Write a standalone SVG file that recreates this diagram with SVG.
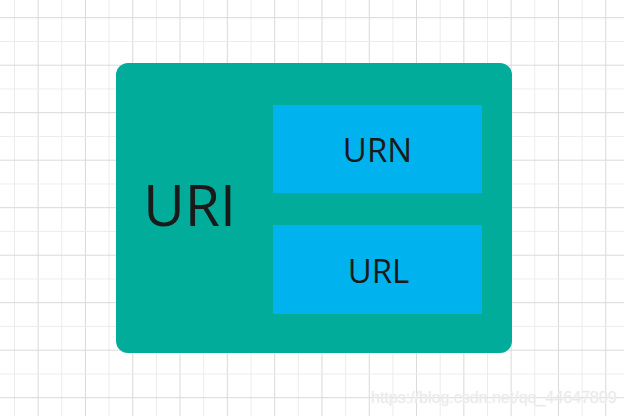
<svg xmlns="http://www.w3.org/2000/svg" width="624" height="416" viewBox="0 0 624 416">
  <defs>
    <pattern id="gv" patternUnits="userSpaceOnUse" x="14" y="0" width="47.3" height="416">
      <line x1="0.5" y1="0" x2="0.5" y2="416" stroke="#ececec" stroke-width="1"/>
      <line x1="24.15" y1="0" x2="24.15" y2="416" stroke="#d9d9d9" stroke-width="1"/>
    </pattern>
    <pattern id="gh" patternUnits="userSpaceOnUse" x="0" y="17.2" width="624" height="47.5">
      <line x1="0" y1="0.5" x2="624" y2="0.5" stroke="#d9d9d9" stroke-width="1"/>
      <line x1="0" y1="24.25" x2="624" y2="24.25" stroke="#ececec" stroke-width="1"/>
    </pattern>
  </defs>
  <style>
    .lbl { font-family: "Open Sans", "Noto Sans", sans-serif; fill: #1a1a1a; text-anchor: middle; }
    .inner { fill: #00b2ee; }
  </style>
  <rect width="624" height="416" fill="#ffffff"/>
  <rect width="624" height="416" fill="url(#gv)"/>
  <rect width="624" height="416" fill="url(#gh)"/>
  <g id="uri">
    <rect x="116" y="63" width="396" height="290" rx="12" ry="12" fill="#02ac9b"/>
    <text class="lbl" x="189.5" y="226" font-size="57">URI</text>
  </g>
  <g id="urn">
    <rect class="inner" x="273" y="105" width="209" height="88"/>
    <text class="lbl" x="377.5" y="161.5" font-size="33">URN</text>
  </g>
  <g id="url">
    <rect class="inner" x="273" y="225" width="209" height="89"/>
    <text class="lbl" x="378.5" y="282.5" font-size="33">URL</text>
  </g>
  <g id="connectors"/>
  <text x="371" y="403" font-family="Liberation Sans, Arial, sans-serif" font-size="16" fill="#e4e4e4" stroke="#f4f4f4" stroke-width="0.5">https://blog.csdn.net/qq_44647809</text>
</svg>
